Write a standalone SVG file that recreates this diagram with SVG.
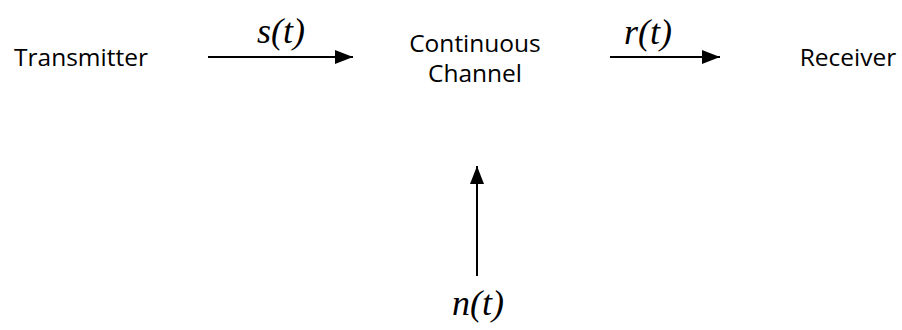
<svg xmlns="http://www.w3.org/2000/svg" width="902" height="330" viewBox="0 0 902 330">
<style>
.lbl{font-family:"Open Sans","Liberation Sans",sans-serif;font-size:24.5px;fill:#000}
.ln{stroke:#000;stroke-width:2;fill:none}
.sig{font-family:"Times New Roman","Liberation Serif","DejaVu Serif",serif;font-style:italic;font-size:36px;fill:#000}
</style>
<defs>
<marker id="ah" viewBox="0 0 18 14" refX="18" refY="7" markerWidth="18" markerHeight="14" markerUnits="userSpaceOnUse" orient="auto">
<path d="M0,0 L18,7 L0,14 z" fill="#000"/>
</marker>
</defs>
<g id="transmitter"><text class="lbl" x="81" y="66" text-anchor="middle">Transmitter</text></g>
<g id="channel"><text class="lbl" x="475" y="52" text-anchor="middle">Continuous</text><text class="lbl" x="475" y="82" text-anchor="middle">Channel</text></g>
<g id="receiver"><text class="lbl" x="848" y="66" text-anchor="middle">Receiver</text></g>
<g id="connectors">
<line class="ln" x1="208" y1="57" x2="353" y2="57" marker-end="url(#ah)"/>
<line class="ln" x1="610" y1="57" x2="720" y2="57" marker-end="url(#ah)"/>
<line class="ln" x1="477" y1="276" x2="477" y2="166" marker-end="url(#ah)"/>
<text class="sig" x="281" y="43" text-anchor="middle">s(t)</text>
<text class="sig" x="648" y="44" text-anchor="middle">r(t)</text>
<text class="sig" x="478" y="315" text-anchor="middle">n(t)</text>
</g>
</svg>
